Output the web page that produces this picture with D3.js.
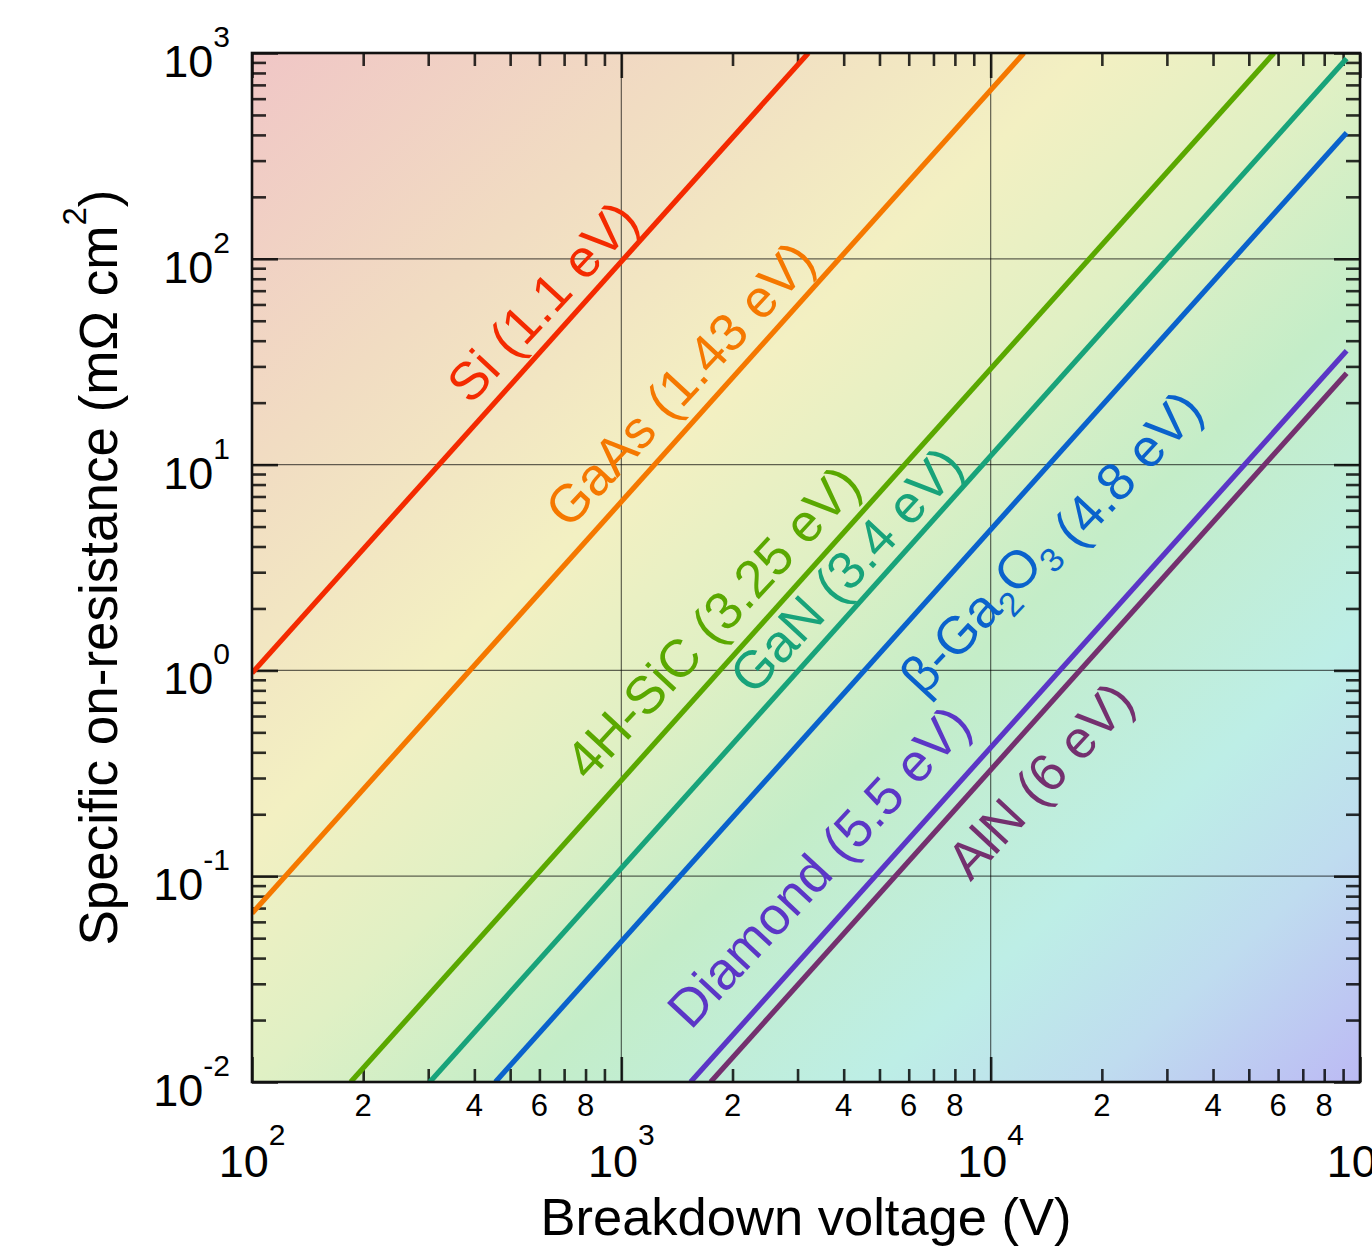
<!DOCTYPE html>
<html>
<head>
<meta charset="utf-8">
<script src="https://cdn.jsdelivr.net/npm/d3@7"></script>
<style>
  body { margin: 0; background: #fff; }
  text { font-family: "Liberation Sans", Arial, sans-serif; }
</style>
</head>
<body>
<div id="chart"></div>
<script>
// ---- data
// each material's limit line, given by its two end points (V, Ron in mOhm cm2)
var materials = ['Si', 'GaAs', '4H-SiC', 'GaN', 'β-Ga_2O_3', 'Diamond', 'AlN'];
var bandgaps  = [1.1, 1.43, 3.25, 3.4, 4.8, 5.5, 6];
var startV = [100, 100, 185, 303, 456, 1540, 1745];
var startR = [0.97, 0.066, 0.01, 0.01, 0.01, 0.01, 0.01];
var endV   = [3210, 12300, 58500, 92000, 92000, 92000, 92000];
var endR   = [1000, 1000, 1000, 940, 410, 35.7, 27.8];
var colors = ['#f42a00', '#f57800', '#5aa800', '#18a37a', '#0a62cc', '#5b36c6', '#74306f'];

// where each label starts along its line (V) and how far it sits from it (px, + = above)
var labelV      = [420, 790, 905, 2450, 4950, 1800, 6700];
var labelOffset = [16, 20, 23, 16, -62, 34, -60];

var xExp = [2, 3, 4, 5];
var yExp = [-2, -1, 0, 1, 2, 3];
var minorLabels = [2, 4, 6, 8];

// ---- layout
var W = 1372, H = 1254;
var margin = { top: 53, right: 12, bottom: 172, left: 252 };
var iw = W - margin.left - margin.right;
var ih = H - margin.top - margin.bottom;

var x = d3.scaleLog().domain([1e2, 1e5]).range([0, iw]);
var y = d3.scaleLog().domain([1e-2, 1e3]).range([ih, 0]);

var svg = d3.select('#chart').append('svg')
  .attr('width', W).attr('height', H);

var defs = svg.append('defs');
var grad = defs.append('linearGradient').attr('id', 'bg')
  .attr('x1', 0).attr('y1', 0).attr('x2', 1).attr('y2', 1);
[[0, '#f0c6c6'], [0.2, '#f1dcc2'], [0.38, '#f3f0c2'], [0.5, '#e0f0c4'],
 [0.62, '#c4edc8'], [0.78, '#bdeee6'], [0.88, '#bfdcef'], [1, '#bcbaf4']]
  .forEach(function(s) {
    grad.append('stop').attr('offset', s[0]).attr('stop-color', s[1]);
  });
defs.append('clipPath').attr('id', 'clip')
  .append('rect').attr('width', iw).attr('height', ih);

var g = svg.append('g')
  .attr('transform', 'translate(' + margin.left + ',' + margin.top + ')');

g.append('rect').attr('width', iw).attr('height', ih).attr('fill', 'url(#bg)');

// decade grid
var xMajor = xExp.map(function(e) { return Math.pow(10, e); });
var yMajor = yExp.map(function(e) { return Math.pow(10, e); });
var xMinor = [], yMinor = [];
[2, 3, 4].forEach(function(e) {
  for (var m = 2; m < 10; m++) xMinor.push(m * Math.pow(10, e));
});
[-2, -1, 0, 1, 2].forEach(function(e) {
  for (var m = 2; m < 10; m++) yMinor.push(m * Math.pow(10, e));
});

g.selectAll('.vgrid').data(xMajor.slice(1, -1)).enter().append('line')
  .attr('x1', x).attr('x2', x).attr('y1', 0).attr('y2', ih)
  .attr('stroke', '#000').attr('stroke-opacity', 0.6).attr('stroke-width', 1.2);
g.selectAll('.hgrid').data(yMajor.slice(1, -1)).enter().append('line')
  .attr('y1', y).attr('y2', y).attr('x1', 0).attr('x2', iw)
  .attr('stroke', '#000').attr('stroke-opacity', 0.6).attr('stroke-width', 1.2);

// inward ticks on all four sides
function ticks(axis, vals, size, tr) {
  var a = g.append('g').attr('transform', tr)
    .call(axis.tickValues(vals).tickSize(size).tickSizeOuter(0).tickFormat(''));
  a.select('.domain').remove();
  a.selectAll('line').attr('stroke', '#000').attr('stroke-opacity', 0.82).attr('stroke-width', 2.6);
}
ticks(d3.axisBottom(x), xMinor, -13, 'translate(0,' + ih + ')');
ticks(d3.axisBottom(x), xMajor, -25, 'translate(0,' + ih + ')');
ticks(d3.axisTop(x), xMinor, -13, 'translate(0,0)');
ticks(d3.axisTop(x), xMajor, -25, 'translate(0,0)');
ticks(d3.axisLeft(y), yMinor, -14, 'translate(0,0)');
ticks(d3.axisLeft(y), yMajor, -26, 'translate(0,0)');
ticks(d3.axisRight(y), yMinor, -14, 'translate(' + iw + ',0)');
ticks(d3.axisRight(y), yMajor, -26, 'translate(' + iw + ',0)');

// material lines
var plot = g.append('g').attr('clip-path', 'url(#clip)');
var line = d3.line().x(function(d) { return x(d[0]); }).y(function(d) { return y(d[1]); });
materials.forEach(function(m, i) {
  plot.append('path')
    .attr('d', line([[startV[i], startR[i]], [endV[i], endR[i]]]))
    .attr('fill', 'none').attr('stroke', colors[i]).attr('stroke-width', 5.2);
});

// line labels, set parallel to the lines
var ang = Math.atan2(y(startR[0]) - y(endR[0]), x(endV[0]) - x(startV[0]));
var textAng = ang - 1 * Math.PI / 180;
var ux = -Math.sin(textAng), uy = -Math.cos(textAng);
materials.forEach(function(m, i) {
  var x0 = x(startV[i]), y0 = y(startR[i]), x1 = x(endV[i]), y1 = y(endR[i]);
  var fx = x(labelV[i]);
  var fy = y0 + (y1 - y0) * (fx - x0) / (x1 - x0);
  var px = fx + labelOffset[i] * ux, py = fy + labelOffset[i] * uy;
  var t = g.append('text')
    .attr('transform', 'translate(' + px + ',' + py + ') rotate(' + (-textAng * 180 / Math.PI) + ')')
    .attr('fill', colors[i]).style('font-size', '53px');
  var parts = m.split('_');
  parts.forEach(function(p, k) {
    if (k === 0) { t.append('tspan').text(p); return; }
    t.append('tspan').attr('dy', 12).style('font-size', '34px').text(p[0]);
    t.append('tspan').attr('dy', -12).text(p.slice(1));
  });
  t.append('tspan').text(' (' + bandgaps[i] + ' eV)');
});

// frame
g.append('rect').attr('width', iw).attr('height', ih)
  .attr('fill', 'none').attr('stroke', '#111').attr('stroke-width', 2.6);

// tick labels
g.selectAll('.ylab').data(yExp).enter().append('text')
  .attr('x', -22).attr('y', function(e) { return y(Math.pow(10, e)) + 24; })
  .attr('text-anchor', 'end').style('font-size', '45px')
  .each(function(e) {
    var t = d3.select(this);
    t.append('tspan').text('10');
    t.append('tspan').attr('dy', -30).style('font-size', '30px').text(e);
  });

g.selectAll('.xlab').data(xExp).enter().append('text')
  .attr('x', function(d) { return x(Math.pow(10, d)); }).attr('y', ih + 95)
  .attr('text-anchor', 'middle').style('font-size', '45px')
  .each(function(e) {
    var t = d3.select(this);
    t.append('tspan').text('10');
    t.append('tspan').attr('dy', -32).style('font-size', '30px').text(e);
  });

var xMinorLab = [];
[2, 3, 4].forEach(function(e) {
  minorLabels.forEach(function(m) { xMinorLab.push([m, m * Math.pow(10, e)]); });
});
g.selectAll('.xmin').data(xMinorLab).enter().append('text')
  .attr('x', function(d) { return x(d[1]); }).attr('y', ih + 34)
  .attr('text-anchor', 'middle').style('font-size', '31px')
  .text(function(d) { return d[0]; });

// axis titles
svg.append('text')
  .attr('x', margin.left + iw / 2).attr('y', 1235)
  .attr('text-anchor', 'middle').style('font-size', '52.5px')
  .text('Breakdown voltage (V)');

var yt = svg.append('text')
  .attr('transform', 'translate(117,' + (margin.top + ih / 2) + ') rotate(-90)')
  .attr('text-anchor', 'middle').style('font-size', '53px');
yt.append('tspan').text('Specific on-resistance (mΩ cm');
yt.append('tspan').attr('dy', -31).style('font-size', '33px').text('2');
yt.append('tspan').attr('dy', 31).text(')');
</script>
</body>
</html>
